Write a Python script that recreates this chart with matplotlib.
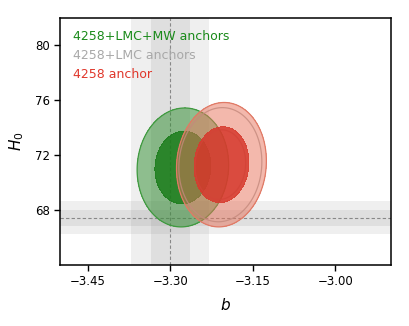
import numpy as np
import matplotlib
matplotlib.use("Agg")
import matplotlib.pyplot as plt

# Gaussian summaries of each chain: (b, H0) means, sigmas, correlation
LABELS = ["4258+LMC+MW anchors", "4258+LMC anchors", "4258 anchor"]
MEAN_B = [-3.277, -3.209, -3.207]
MEAN_H0 = [71.1, 71.3, 71.3]
SIG_B = [0.0334, 0.0303, 0.0328]
SIG_H0 = [1.74, 1.67, 1.82]
RHO = [0.04, 0.05, 0.06]

# reference bands (vertical: b, horizontal: H0)
B_REF, B_SIG = -3.30, 0.0355
H0_REF, H0_SIG = 67.44, 0.6

XTICKS = [-3.45, -3.30, -3.15, -3.00]
YTICKS = [68, 72, 76, 80]

TEXT_COLORS = ["#1a8a1a", "#a8a8a8", "#e0372b"]
INNER = ["#1b7d1b", None, "#d73b2e"]
OUTER = ["#2f8f2f", None, "#e8735a"]
EDGE = ["#3f9a3f", "#a0a0a0", "#e07a66"]

LEVELS = [2.30, 6.18]  # 68% / 95% for 2 params


def chi2_grid(mb, mh, sb, sh, rho, X, Y):
    dx = (X - mb) / sb
    dy = (Y - mh) / sh
    return (dx * dx - 2 * rho * dx * dy + dy * dy) / (1 - rho * rho)


fig = plt.figure(figsize=(4.09, 3.26), dpi=100)
ax = fig.add_axes([0.1467, 0.187, 0.8083, 0.759])

gray = "#808080"
ax.axvspan(B_REF - 2 * B_SIG, B_REF + 2 * B_SIG, color=gray, alpha=0.12, lw=0, zorder=0)
ax.axvspan(B_REF - B_SIG, B_REF + B_SIG, color=gray, alpha=0.14, lw=0, zorder=0)
ax.axhspan(H0_REF - 2 * H0_SIG, H0_REF + 2 * H0_SIG, color=gray, alpha=0.12, lw=0, zorder=0)
ax.axhspan(H0_REF - H0_SIG, H0_REF + H0_SIG, color=gray, alpha=0.14, lw=0, zorder=0)
ax.axvline(B_REF, color="#888888", ls=(0, (3, 2)), lw=0.8, zorder=1)
ax.axhline(H0_REF, color="#888888", ls=(0, (3, 2)), lw=0.8, zorder=1)

xs = np.linspace(-3.5, -2.9, 500)
ys = np.linspace(64, 82, 500)
X, Y = np.meshgrid(xs, ys)

for i in [0, 1, 2]:
    c2 = chi2_grid(MEAN_B[i], MEAN_H0[i], SIG_B[i], SIG_H0[i], RHO[i], X, Y)
    z = 2 + i
    if OUTER[i] is not None:
        ax.contourf(X, Y, c2, levels=[LEVELS[0], LEVELS[1]], colors=[OUTER[i]], alpha=0.5, zorder=z)
        ax.contourf(X, Y, c2, levels=[0, LEVELS[0]], colors=[INNER[i]], alpha=0.92, zorder=z)
        ax.contour(X, Y, c2, levels=[LEVELS[1]], colors=[EDGE[i]], linewidths=0.9, zorder=z)
    else:
        ax.contour(X, Y, c2, levels=LEVELS, colors=[EDGE[i]], linewidths=0.9, alpha=0.8, zorder=z)

for i, lab in enumerate(LABELS):
    ax.text(0.038, 0.925 - i * 0.077, lab, transform=ax.transAxes, color=TEXT_COLORS[i],
            fontsize=9, va="center", ha="left", zorder=10)

ax.set_xlim(-3.5, -2.9)
ax.set_ylim(64, 82)
ax.set_xticks(XTICKS)
ax.set_yticks(YTICKS)
ax.set_xticklabels([f"{v:.2f}".replace("-", "\u2212") for v in XTICKS])
ax.tick_params(direction="out", length=4, width=1, labelsize=8.5)
for s in ax.spines.values():
    s.set_linewidth(1.1)
ax.set_xlabel(r"$b$", fontsize=11, labelpad=6)
ax.set_ylabel(r"$H_0$", fontsize=11, labelpad=6)

fig.savefig("out.png", dpi=100)
